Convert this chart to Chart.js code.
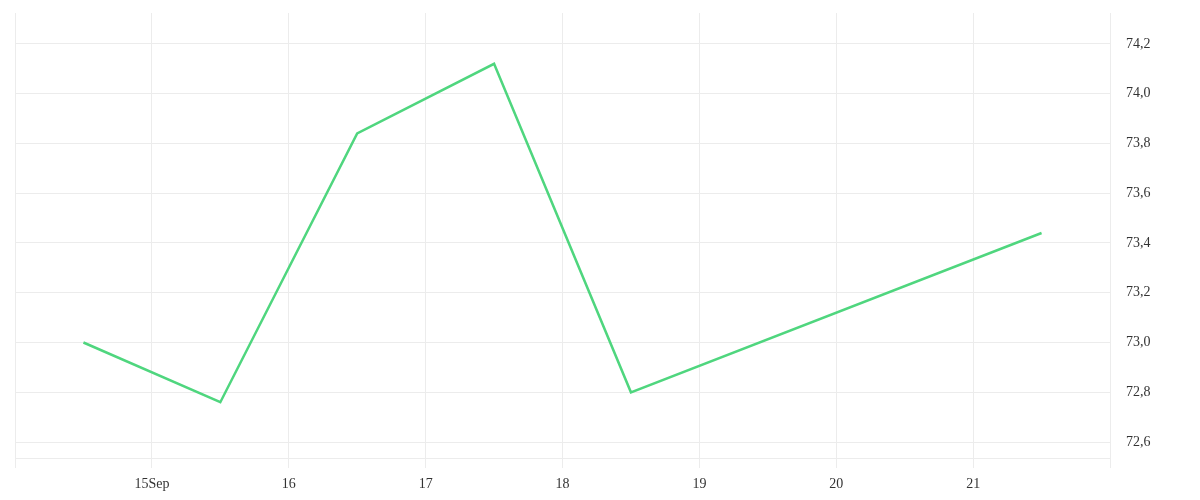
<!DOCTYPE html>
<html>
<head>
<meta charset="utf-8">
<script src="https://cdn.jsdelivr.net/npm/chart.js@4.4.0/dist/chart.umd.min.js"></script>
<style>
  html, body { margin: 0; padding: 0; background: #fff; }
  #wrap { width: 1200px; height: 500px; }
</style>
</head>
<body>
<div id="wrap"><canvas id="chart"></canvas></div>
<script>
// day of September (noon = .5) and the value at that point
const days = [14.5, 15.5, 16.5, 17.5, 18.5, 21.5];
const values = [73.0, 72.76, 73.84, 74.12, 72.8, 73.44];
const dayTicks = [14, 15, 16, 17, 18, 19, 20, 21, 22];
const valueTicks = [72.6, 72.8, 73.0, 73.2, 73.4, 73.6, 73.8, 74.0, 74.2];

const gridColor = '#ececec';
const tickFont = { family: 'Liberation Serif', size: 14 };

new Chart(document.getElementById('chart'), {
  type: 'line',
  data: {
    datasets: [{
      data: days.map((d, i) => ({ x: d, y: values[i] })),
      borderColor: '#4fd67e',
      borderWidth: 2.5,
      pointRadius: 0,
      tension: 0,
      fill: false
    }]
  },
  options: {
    responsive: true,
    maintainAspectRatio: false,
    animation: false,
    layout: { padding: { left: 15, top: 13, right: 0, bottom: 0 } },
    plugins: { legend: { display: false }, tooltip: { enabled: false } },
    scales: {
      x: {
        type: 'linear',
        min: 14,
        max: 22,
        afterBuildTicks: axis => { axis.ticks = dayTicks.map(v => ({ value: v })); },
        afterFit: axis => { axis.height = 42; axis.paddingLeft = 0; axis.paddingRight = 0; },
        grid: { color: gridColor, tickLength: 10 },
        border: { color: gridColor },
        ticks: {
          color: '#333',
          font: tickFont,
          padding: 8,
          maxRotation: 0,
          autoSkip: false,
          callback: v => (v === 15 ? '15Sep' : (v > 14 && v < 22 ? String(v) : ''))
        }
      },
      y: {
        position: 'right',
        min: 72.536,
        max: 74.324,
        afterBuildTicks: axis => { axis.ticks = valueTicks.map(v => ({ value: v })); },
        afterFit: axis => { axis.width = 90; axis.paddingTop = 0; axis.paddingBottom = 0; },
        grid: { color: gridColor, drawTicks: false },
        border: { color: gridColor },
        ticks: {
          color: '#333',
          font: tickFont,
          padding: 16,
          callback: v => v.toFixed(1).replace('.', ',')
        }
      }
    }
  }
});
</script>
</body>
</html>
